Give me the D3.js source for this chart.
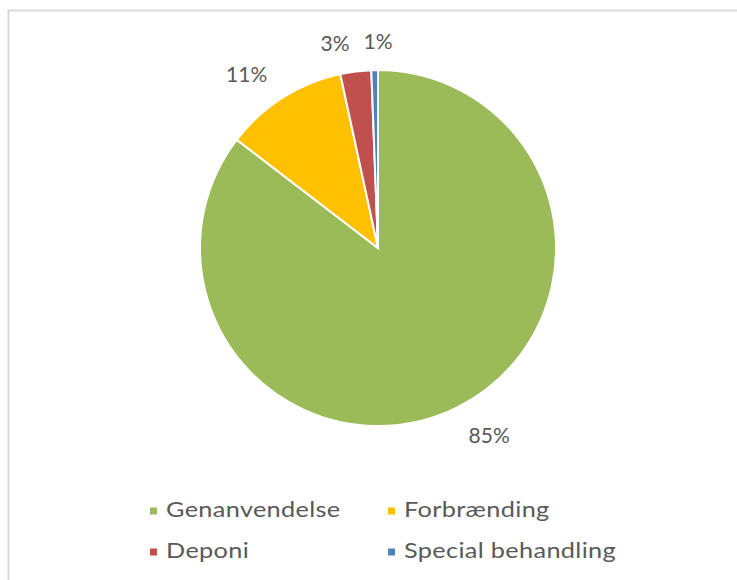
<!DOCTYPE html>
<html>
<head>
<meta charset="utf-8">
<script src="https://cdn.jsdelivr.net/npm/d3@7"></script>
<style>
  body { margin: 0; background: #fff; }
  text { font-family: Lato, "Open Sans", sans-serif; fill: #595959; }
</style>
</head>
<body>
<div id="chart"></div>
<script>
// data
const categories = ["Genanvendelse", "Forbrænding", "Deponi", "Special behandling"];
const shares = [85.4, 11.2, 2.8, 0.6];
const labels = ["85%", "11%", "3%", "1%"];
const colors = ["#9BBB59", "#FFC000", "#C0504D", "#4F81BD"];

const width = 737, height = 580;
const cx = 378, cy = 248, radius = 178;
const labelSize = 21;

const svg = d3.select("#chart").append("svg")
  .attr("width", width)
  .attr("height", height);

// chart frame (runs past the right and bottom edge)
svg.append("rect")
  .attr("x", 8.5).attr("y", 10.5)
  .attr("width", 800).attr("height", 700)
  .attr("fill", "#fff")
  .attr("stroke", "#d9d9d9")
  .attr("stroke-width", 2);

const pie = d3.pie().sort(null).value((d) => d);
const arcs = pie(shares);

const arc = d3.arc().innerRadius(0).outerRadius(radius);

const g = svg.append("g").attr("transform", `translate(${cx},${cy})`);

g.selectAll("path")
  .data(arcs)
  .join("path")
  .attr("d", arc)
  .attr("fill", (d, i) => colors[i])
  .attr("stroke", "#fff")
  .attr("stroke-width", 2);

// data labels: outside end, nearest edge of the glyph box kept ~22px off the rim
const lbl = g.selectAll("text.lbl")
  .data(arcs)
  .join("text")
  .attr("class", "lbl")
  .attr("text-anchor", "middle")
  .attr("dominant-baseline", "central")
  .style("font-size", labelSize + "px")
  .text((d, i) => labels[i]);

const gapR = radius + 22;
const pos = [];
lbl.each(function (d) {
  const w = this.getBBox().width, h = labelSize * 0.74;
  const a = (d.startAngle + d.endAngle) / 2 - 0.08;
  const ux = Math.sin(a), uy = -Math.cos(a);
  // distance from pie centre to the closest point of a box centred at t*u
  const near = (t) => {
    const x = t * ux, y = t * uy;
    const nx = Math.max(Math.abs(x) - w / 2, 0), ny = Math.max(Math.abs(y) - h / 2, 0);
    return Math.hypot(nx, ny);
  };
  let lo = 0, hi = 400;
  for (let k = 0; k < 40; k++) {
    const mid = (lo + hi) / 2;
    if (near(mid) < gapR) lo = mid; else hi = mid;
  }
  pos.push({ x: lo * ux, y: lo * uy, w: w });
});
// keep crowded labels apart
for (let i = 1; i < pos.length; i++) {
  const p = pos[i - 1], q = pos[i];
  const minGap = (p.w + q.w) / 2 + 14;
  if (Math.abs(q.y - p.y) < 20 && q.x - p.x < minGap) q.x = p.x + minGap;
}
lbl.attr("x", (d, i) => pos[i].x).attr("y", (d, i) => pos[i].y);

// legend, two columns
const legend = svg.append("g");
const item = legend.selectAll("g")
  .data(categories)
  .join("g")
  .attr("transform", (d, i) => `translate(${150 + (i % 2) * 238},${511 + Math.floor(i / 2) * 41})`);

item.append("rect")
  .attr("x", 0).attr("y", -3.5)
  .attr("width", 7).attr("height", 7)
  .attr("fill", (d, i) => colors[i]);

item.append("text")
  .attr("transform", "translate(16,6) scale(1.15,1)")
  .style("font-size", "22px")
  .style("letter-spacing", "0.3px")
  .text((d) => d);
</script>
</body>
</html>
